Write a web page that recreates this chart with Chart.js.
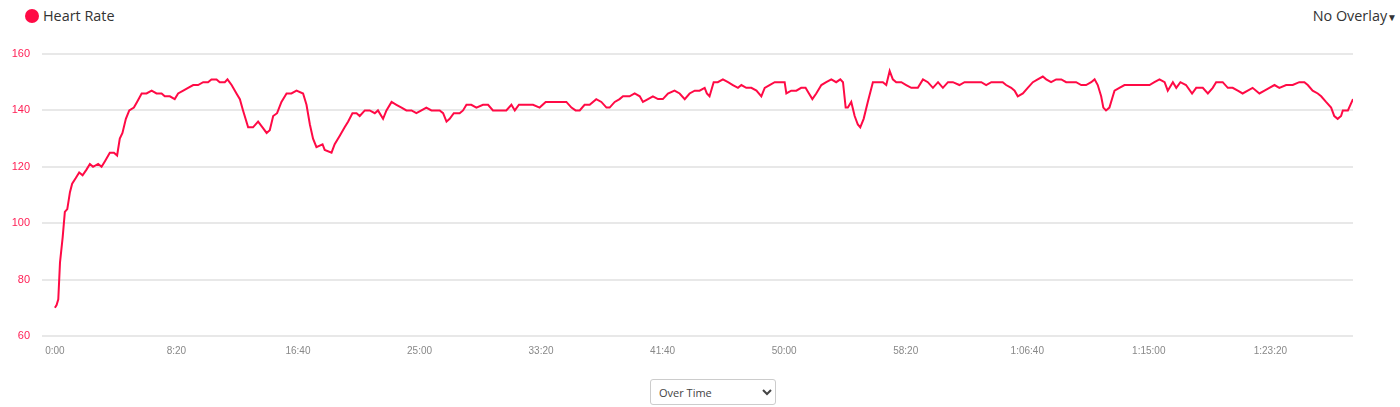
<!DOCTYPE html>
<html>
<head>
<meta charset="utf-8">
<script src="https://cdn.jsdelivr.net/npm/chart.js@4.4.0/dist/chart.umd.min.js"></script>
<style>
  html, body { margin: 0; padding: 0; background: #fff; }
  body { width: 1400px; height: 407px; position: relative; overflow: hidden; font-family: "Open Sans", sans-serif; }
  .legend { position: absolute; left: 25px; top: 6px; display: flex; align-items: center; color: #333; font-size: 14.4px; }
  .legend .dot { width: 14px; height: 14px; border-radius: 50%; background: #ff0a45; margin-right: 4px; }
  .overlay { position: absolute; right: 3px; top: 6px; color: #333; font-size: 14.4px; }
  .overlay span { font-size: 10px; }
  #wrap { position: absolute; left: 0; top: 0; width: 1400px; height: 372px; }
  select { position: absolute; left: 650px; top: 379px; width: 126px; height: 26px; font: 11px "Open Sans", sans-serif; color: #444; border: 1px solid #ccc; border-radius: 3px; background: #fff; padding: 0 4px; }
</style>
</head>
<body>
<div class="legend"><div class="dot"></div>Heart Rate</div>
<div class="overlay">No Overlay<span>▼</span></div>
<div id="wrap"><canvas id="hr-chart"></canvas></div>
<select><option>Over Time</option></select>
<script>
// elapsed seconds
const times = [0,7,14,21,32,41,51,62,71,86,100,114,130,144,157,178,192,206,226,243,256,267,278,292,306,325,338,357,377,398,
  418,439,452,473,493,507,528,548,569,589,610,630,644,665,678,699,710,727,747,761,774,795,815,836,854,871,884,898,914,932,
  953,973,994,1021,1035,1049,1062,1076,1101,1110,1138,1151,1172,1192,1206,1224,1241,1254,1275,1295,1316,1329,1350,1364,1385,
  1405,1426,1446,1467,1487,1508,1528,1549,1583,1597,1611,1624,1641,1665,1679,1693,1713,1734,1761,1782,1802,1830,1857,1878,
  1892,1909,1940,1967,1994,2019,2049,2077,2104,2125,2142,2159,2179,2200,2227,2248,2269,2282,2303,2323,2337,2364,2385,2406,
  2419,2440,2460,2481,2501,2522,2549,2570,2591,2611,2632,2652,2673,2682,2693,2710,2727,2748,2769,2789,2810,2824,2844,2865,
  2886,2906,2920,2940,2961,2981,3002,3009,3029,3050,3070,3088,3102,3116,3132,3153,3173,3194,3214,3231,3242,3253,3262,3276,
  3290,3303,3313,3327,3344,3365,3385,3406,3420,3434,3447,3461,3482,3502,3523,3550,3571,3591,3612,3633,3653,3674,3694,3721,
  3742,3763,3790,3811,3831,3852,3879,3899,3913,3934,3948,3961,3982,4002,4023,4043,4064,4078,4098,4119,4140,4160,4181,4201,
  4222,4242,4263,4277,4290,4304,4313,4324,4338,4352,4359,4379,4400,4434,4475,4503,4523,4544,4565,4578,4599,4613,4630,4653,
  4678,4695,4722,4743,4763,4777,4804,4825,4845,4866,4886,4907,4927,4955,4976,4996,5017,5037,5065,5092,5119,5140,5154,5174,
  5195,5209,5229,5250,5263,5277,5291,5298,5319,5340];

// bpm
const heartRate = [70,71,73,86,95,104,105,111,114,116,118,117,119,121,120,121,120,122,125,125,124,130,132,137,140,141,143,146,146,147,
  146,146,145,145,144,146,147,148,149,149,150,150,151,151,150,150,151,149,146,144,140,134,134,136,134,132,133,138,139,143,
  146,146,147,146,142,135,130,127,128,126,125,128,131,134,136,139,139,138,140,140,139,140,137,140,143,
  142,141,140,140,139,140,141,140,140,139,136,137,139,139,140,142,142,141,142,142,140,140,140,142,
  140,142,142,142,141,143,143,143,143,141,140,140,142,142,144,143,141,141,143,144,145,145,146,145,
  143,144,145,144,144,146,147,146,144,146,147,147,148,146,145,150,150,151,150,149,148,149,148,148,
  147,145,148,149,150,150,150,146,147,147,148,148,146,144,146,149,150,151,150,151,150,141,141,143,
  138,135,134,137,143,150,150,150,149,154,151,150,150,149,148,148,151,150,148,150,148,150,150,149,
  150,150,150,150,149,150,150,150,149,148,147,145,146,148,150,151,152,151,150,151,151,150,150,150,
  149,149,150,151,149,145,141,140,141,145,147,148,149,149,149,149,150,151,150,147,150,148,150,149,
  146,148,148,146,148,150,150,148,148,147,146,147,148,146,147,148,149,148,149,149,150,150,149,147,
  146,145,143,141,138,137,138,140,140,144];

const xTicks = [0,500,1000,1500,2000,2500,3000,3500,4000,4500,5000];
const yTicks = [60,80,100,120,140,160];

function fmtTime(s) {
  const h = Math.floor(s / 3600), m = Math.floor((s % 3600) / 60), sec = s % 60;
  const ss = String(sec).padStart(2, '0');
  return h > 0 ? h + ':' + String(m).padStart(2, '0') + ':' + ss : m + ':' + ss;
}

const ctx = document.getElementById('hr-chart').getContext('2d');
new Chart(ctx, {
  type: 'line',
  data: {
    datasets: [{
      label: 'Heart Rate',
      data: times.map((t, i) => ({ x: t, y: heartRate[i] })),
      borderColor: '#ff0a45',
      borderWidth: 2,
      pointRadius: 0,
      tension: 0,
      fill: false
    }]
  },
  options: {
    responsive: true,
    maintainAspectRatio: false,
    animation: false,
    layout: { padding: { top: 54, right: 47, left: 0, bottom: 0 } },
    plugins: { legend: { display: false }, tooltip: { enabled: false } },
    scales: {
      x: {
        type: 'linear',
        min: -53,
        max: 5340,
        afterBuildTicks: axis => { axis.ticks = xTicks.map(v => ({ value: v })); },
        afterFit: axis => { axis.height = 36; },
        grid: { display: false, drawTicks: false },
        border: { display: false },
        ticks: { padding: 9, color: '#888', font: { family: 'Liberation Sans, Arial', size: 10 }, maxRotation: 0, callback: v => fmtTime(v) }
      },
      y: {
        min: 60,
        max: 160,
        afterBuildTicks: axis => { axis.ticks = yTicks.map(v => ({ value: v })); },
        afterFit: axis => { axis.width = 42; },
        grid: { color: '#e8e8e8', lineWidth: 2, drawTicks: false },
        border: { display: false },
        ticks: { padding: 12, color: '#ff1f55', font: { family: 'Liberation Sans, Arial', size: 11 } }
      }
    }
  }
});
</script>
</body>
</html>
